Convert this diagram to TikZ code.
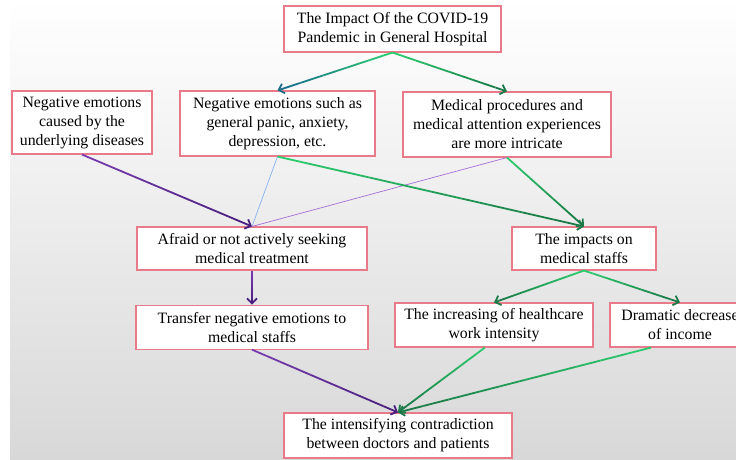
\documentclass[tikz,border=0pt]{standalone}
\usepackage{fontspec}
\setmainfont{Liberation Serif}
\usetikzlibrary{arrows.meta, positioning, calc}
\definecolor{boxline}{HTML}{E97A8A}
\definecolor{ltgreen}{HTML}{2BD06E}
\definecolor{dkgreen}{HTML}{1A7A48}
\definecolor{deepteal}{HTML}{1B6E8C}
\definecolor{violet1}{HTML}{7A3DB2}
\definecolor{violet2}{HTML}{4A2080}
\definecolor{thinblue}{HTML}{86B2F2}
\definecolor{thinviolet}{HTML}{A46FD8}
\definecolor{bgbottom}{HTML}{D8D8D8}

\newcommand\fadearrow[4]{%
  \foreach \k in {0,...,8}{%
    \pgfmathtruncatemacro\pct{\k*11+6}%
    \draw[link, color=#4!\pct!#3] ($(#1)!{\k/10}!(#2)$) -- ($(#1)!{(\k+1)/10}!(#2)$);
  }%
  \draw[link, arrowed, color=#4] ($(#1)!0.9!(#2)$) -- (#2);
}

\begin{document}
\begin{tikzpicture}[x=1pt, y=-1pt,
  box/.style={rectangle, draw=boxline, line width=1.1pt, fill=white,
              align=center, inner sep=0pt, font=\fontsize{15.8}{19}\selectfont},
  link/.style={line width=1.8pt},
  arrowed/.style={-{Straight Barb[length=5pt, width=10pt]}},
  faint/.style={line width=0.7pt}
]
  \clip (0,0) rectangle (736,459);
  \fill[white] (0,0) rectangle (736,459);
  \shade[top color=white, bottom color=bgbottom] (10,0) rectangle (736,459);

  \node[box, minimum width=217pt, minimum height=46pt] (impact) at (392.5,29)
    {The Impact Of the COVID-19\\Pandemic in General Hospital};
  \node[box, minimum width=140pt, minimum height=63pt] (disease) at (82,122.5)
    {Negative emotions\\caused by the\\underlying diseases};
  \node[box, minimum width=195pt, minimum height=65pt] (panic) at (277.5,123.5)
    {Negative emotions such as\\general panic, anxiety,\\depression, etc.};
  \node[box, minimum width=208pt, minimum height=65pt] (procedure) at (507,124.5)
    {Medical procedures and\\medical attention experiences\\are more intricate};
  \node[box, minimum width=230pt, minimum height=43pt] (afraid) at (252,248.5)
    {Afraid or not actively seeking\\medical treatment};
  \node[box, minimum width=144pt, minimum height=43pt] (staffs) at (584,248.5)
    {The impacts on\\medical staffs};
  \node[box, minimum width=232pt, minimum height=44pt, below=34pt of afraid] (transfer)
    {Transfer negative emotions to\\medical staffs};
  \node[box, minimum width=198pt, minimum height=44pt] (workload) at (494,325)
    {The increasing of healthcare\\work intensity};
  \node[box, minimum width=140pt, minimum height=44pt] (income) at (680,325)
    {Dramatic decrease\\of income};
  \node[box, minimum width=228pt, minimum height=45pt] (conflict) at (398,435.5)
    {The intensifying contradiction\\between doctors and patients};

  \fadearrow{impact.south}{panic.north}{ltgreen}{deepteal}
  \fadearrow{impact.south}{procedure.north}{ltgreen}{dkgreen}
  \fadearrow{disease.south}{afraid.north}{violet1}{violet2}
  \draw[faint, thinblue] (panic.south) -- (afraid.north);
  \draw[faint, thinviolet] (procedure.south) -- (afraid.north);
  \fadearrow{panic.south}{staffs.north}{ltgreen}{dkgreen}
  \fadearrow{procedure.south}{staffs.north}{ltgreen}{dkgreen}
  \fadearrow{afraid.south}{transfer.north}{violet1}{violet2}
  \fadearrow{staffs.south}{workload.north}{ltgreen}{dkgreen}
  \fadearrow{staffs.south}{income.north}{ltgreen}{dkgreen}
  \fadearrow{transfer.south}{conflict.north}{violet1}{violet2}
  \fadearrow{workload.248}{conflict.north}{ltgreen}{dkgreen}
  \fadearrow{income.218}{conflict.north}{ltgreen}{dkgreen}
\end{tikzpicture}
\end{document}
